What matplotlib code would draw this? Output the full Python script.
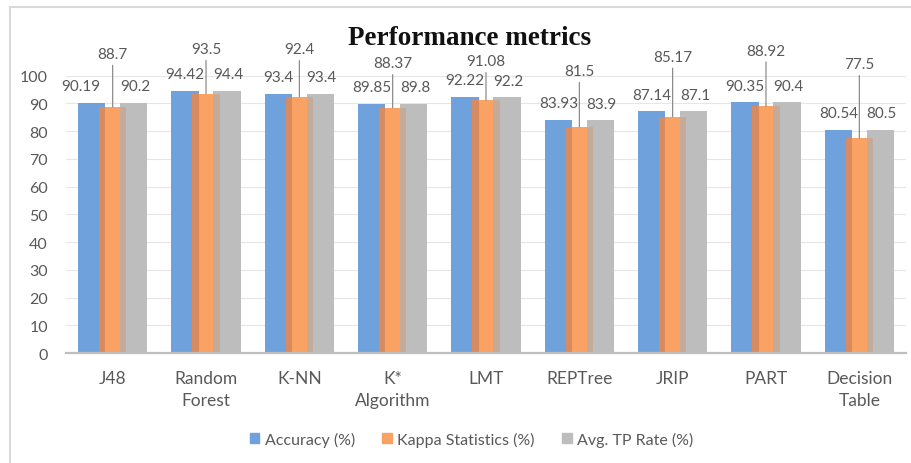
import matplotlib
import matplotlib.pyplot as plt
import numpy as np
from matplotlib.patches import Rectangle

matplotlib.use("Agg")

# ------------------------------------------------------------------
# Data
# ------------------------------------------------------------------
categories = ["J48", "Random\nForest", "K-NN", "K*\nAlgorithm", "LMT",
              "REPTree", "JRIP", "PART", "Decision\nTable"]
accuracy = [90.19, 94.42, 93.4, 89.85, 92.22, 83.93, 87.14, 90.35, 80.54]
kappa = [88.7, 93.5, 92.4, 88.37, 91.08, 81.5, 85.17, 88.92, 77.5]
tp_rate = [90.2, 94.4, 93.4, 89.8, 92.2, 83.9, 87.1, 90.4, 80.5]
series_names = ["Accuracy (%)", "Kappa Statistics (%)", "Avg. TP Rate (%)"]

# label placement (points above bar top) for the kappa call-outs
kappa_label_rise = [38, 32, 34, 32, 28, 40, 43, 40, 53]

BLUE = "#6FA1DC"
ORANGE = "#F9A264"
GRAY = "#BDBDBD"
BLUE_ORANGE = "#D88B5E"   # orange bar shading where it covers the blue one
ORANGE_GRAY = "#C4AA98"   # gray bar shading where it covers the orange one
TEXT = "#595959"
FONT = "Lato"

plt.rcParams["font.family"] = [FONT, "DejaVu Sans"]

fig = plt.figure(figsize=(9.12, 4.64), dpi=100)
fig.patch.set_facecolor("white")
ax = fig.add_axes([0.0724, 0.237, 0.921, 0.598])

x = np.arange(len(categories))
w = 0.294
step = 0.225

ax.bar(x - step, accuracy, w, color=BLUE, zorder=2)
ax.bar(x, kappa, w, color=ORANGE, zorder=3)
ax.bar(x + step, tp_rate, w, color=GRAY, zorder=4)

# darker strips where the bars overlap
ov = w - step
ax.bar(x - w / 2 + ov / 2, np.minimum(accuracy, kappa), ov,
       color=BLUE_ORANGE, zorder=3.5)
ax.bar(x + step - w / 2 + ov / 2, np.minimum(kappa, tp_rate), ov,
       color=ORANGE_GRAY, zorder=4.5)

# value labels
for i in range(len(categories)):
    ax.annotate(f"{accuracy[i]:g}", (x[i] - step, accuracy[i]),
                xytext=(-8 if i == 0 else 0, 12), textcoords="offset points",
                ha="center", va="center", fontsize=11, color=TEXT, zorder=6)
    ax.annotate(f"{tp_rate[i]:g}", (x[i] + step, tp_rate[i]),
                xytext=(1, 12), textcoords="offset points",
                ha="center", va="center", fontsize=11, color=TEXT, zorder=6)
    ax.annotate(f"{kappa[i]:g}", (x[i], kappa[i]),
                xytext=(0, kappa_label_rise[i]), textcoords="offset points",
                ha="center", va="center", fontsize=11, color=TEXT, zorder=6,
                arrowprops=dict(arrowstyle="-", color="#7F7F7F", lw=0.8,
                                shrinkA=1, shrinkB=0))

ax.set_xlim(-0.5, len(categories) - 0.5)
ax.set_ylim(0, 100)
ax.set_yticks(np.arange(0, 101, 10))
ax.set_xticks(x)
ax.set_xticklabels(categories, fontsize=12.5, color=TEXT, linespacing=1.45)
ax.tick_params(axis="y", length=0, pad=13, labelsize=11.5, labelcolor=TEXT)
ax.tick_params(axis="x", length=0, pad=12.5)
ax.grid(axis="y", color="#E6E6E6", lw=0.8, zorder=0)
ax.set_axisbelow(True)
for side in ("top", "right", "left"):
    ax.spines[side].set_visible(False)
ax.spines["bottom"].set_color("#BFBFBF")
ax.spines["bottom"].set_linewidth(1.6)
ax.spines["bottom"].set_zorder(7)

fig.text(0.515, 0.918, "Performance metrics", ha="center", va="center",
         fontsize=19.5, fontweight="bold", family="Liberation Serif",
         color="#111111")

handles = [Rectangle((0, 0), 1, 1, color=c) for c in (BLUE, ORANGE, GRAY)]
fig.legend(handles, series_names, loc="center", ncol=3, frameon=False,
           bbox_to_anchor=(0.517, 1 - 440 / 464), fontsize=11.5,
           handlelength=0.6, handleheight=0.6, handletextpad=0.35,
           columnspacing=1.7, labelcolor=TEXT)

# outer chart frame (left and top edges visible)
fig.add_artist(Rectangle((10 / 912, -0.1), 1.2, 1.1 - 8 / 464, fill=False,
                         edgecolor="#D9D9D9", lw=1.5,
                         transform=fig.transFigure))

fig.savefig("out.png", dpi=100, facecolor="white")
